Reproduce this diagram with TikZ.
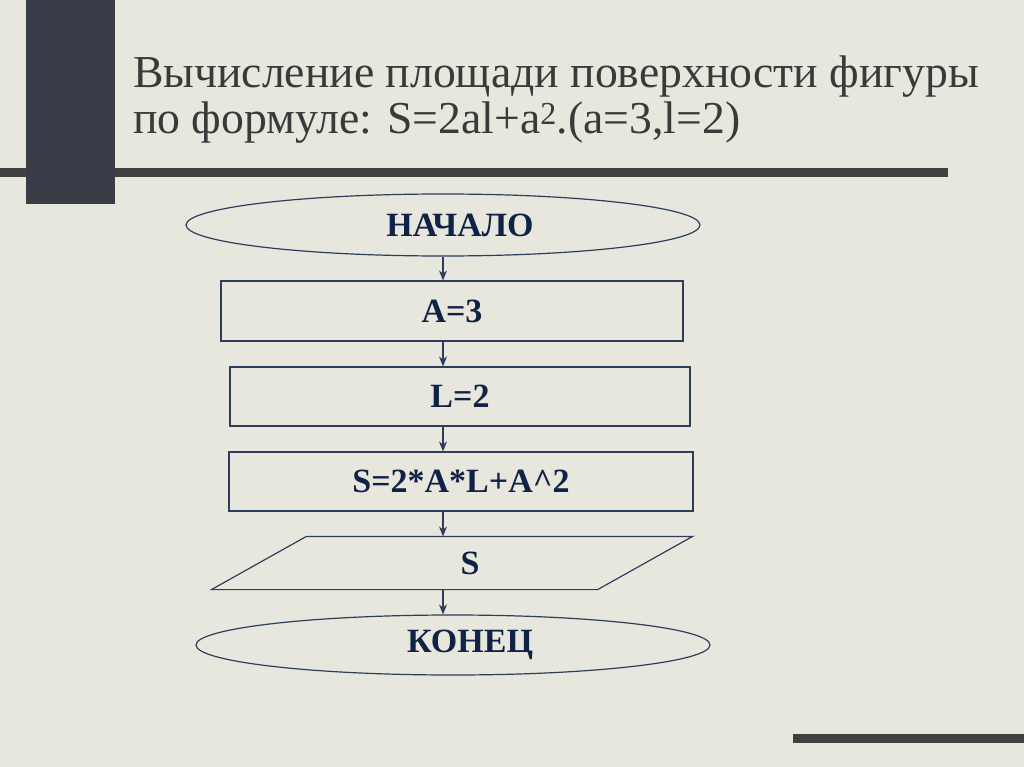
\documentclass[tikz,border=0pt]{standalone}
\usepackage{fontspec}
\setmainfont{Liberation Serif}
\usetikzlibrary{shapes.geometric,arrows.meta}

\definecolor{paper}{HTML}{E8E7DD}
\definecolor{slab}{HTML}{3A3C48}
\definecolor{rule}{HTML}{404040}
\definecolor{titlegrey}{HTML}{3A3A3A}
\definecolor{ink}{HTML}{102347}
\definecolor{edge}{HTML}{2E3D5C}

\tikzset{
  block/.style = {draw = edge, line width = 1.2pt, inner sep = 0pt, text = ink,
                  font = \fontsize{34}{34}\selectfont\bfseries},
  term/.style  = {block, ellipse},
  proc/.style  = {block, rectangle},
  io/.style    = {block, rectangle, draw = none},
  outline/.style = {draw = edge, line width = 1.2pt, line join = miter},
  nudge/.style = {execute at begin node = \hspace*{#1},
                  execute at end node = \hspace*{-#1}},
  arr/.style   = {draw = edge, line width = 1.2pt, -{Stealth[length=10pt,width=8pt]}},
  heading/.style = {anchor = base west, inner sep = 0pt, text = titlegrey,
                  font = \fontsize{45.7}{46}\selectfont}
}

\begin{document}
\begin{tikzpicture}[x=1pt, y=-1pt]
% background and decoration
\path [fill = paper] (0,0) rectangle (1024,767);
\useasboundingbox (0,0) rectangle (1024,767);
\path [fill = rule] (0,168) rectangle (948,177);
\path [fill = slab] (26,0) rectangle (115,204);
\path [fill = rule] (793,734) rectangle (1024,743);

% title
\node [heading] (title1) at (133,88) {Вычисление площади поверхности фигуры};
\node [heading] (title2) at (133,134) {по формуле: S=2al+a\textsuperscript{2}.(a=3,l=2)};

% flowchart
\node [term, nudge = 17pt, minimum width = 514pt, minimum height = 62pt] (begin) at (443,225) {НАЧАЛО};
\node [proc, minimum width = 462pt, minimum height = 60pt] (seta) at (452,311) {A=3};
\node [proc, minimum width = 460pt, minimum height = 59pt] (setl) at (460,396.5) {L=2};
\node [proc, minimum width = 464pt, minimum height = 59pt] (area) at (461,481.5) {S=2*A*L+A\string^2};
\node [io, nudge = 18pt, minimum width = 385pt, minimum height = 52pt] (print) at (452,563) {S};
\node [term, nudge = 17pt, minimum width = 514pt, minimum height = 60pt] (end) at (453,645) {КОНЕЦ};

% output parallelogram
\draw [outline] ([xshift=47.5pt]print.north west) -- ([xshift=47.5pt]print.north east)
  -- ([xshift=-47.5pt]print.south east) -- ([xshift=-47.5pt]print.south west) -- cycle;

\draw [arr] (begin.south) -- (begin.south |- seta.north);
\draw [arr] (seta.south -| begin.south) -- (begin.south |- setl.north);
\draw [arr] (setl.south -| begin.south) -- (begin.south |- area.north);
\draw [arr] (area.south -| begin.south) -- (begin.south |- print.north);
\draw [arr] (print.south -| begin.south) -- (begin.south |- end.north);
\end{tikzpicture}
\end{document}
